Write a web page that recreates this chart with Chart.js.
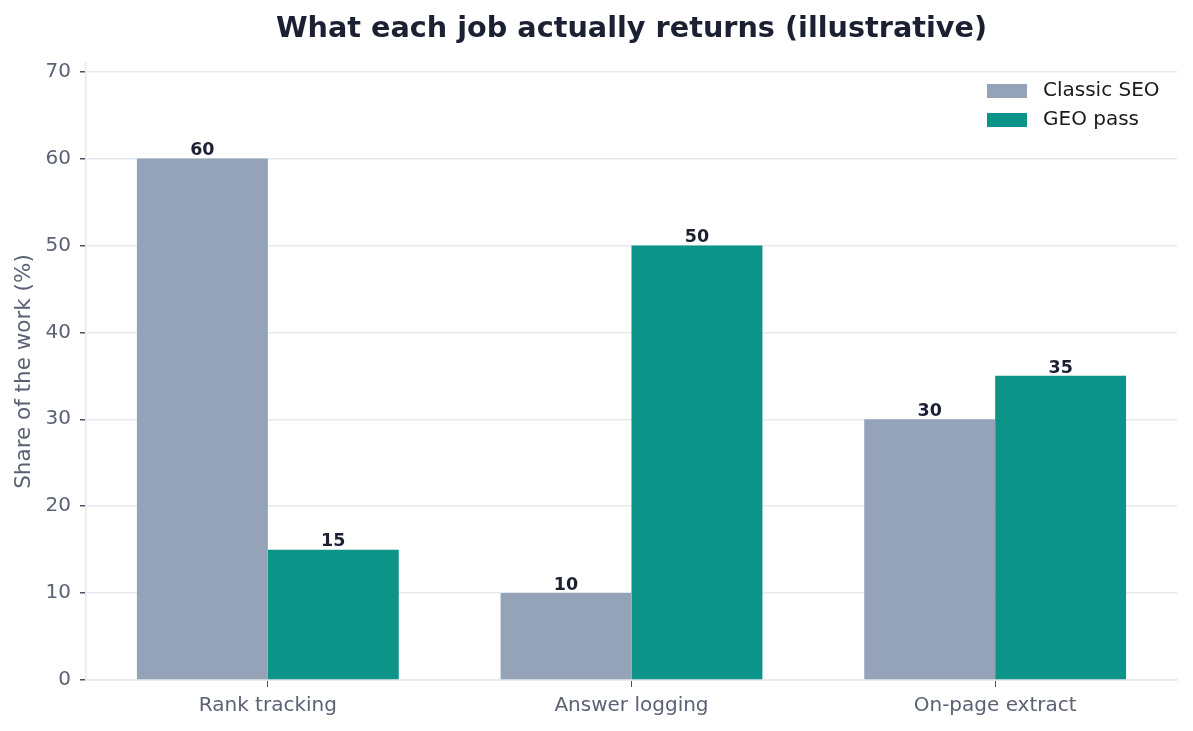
<!DOCTYPE html>
<html>
<head>
<meta charset="utf-8">
<script src="https://cdn.jsdelivr.net/npm/chart.js@4.4.1/dist/chart.umd.min.js"></script>
<style>
    html, body { margin: 0; padding: 0; background: #ffffff; }
    #wrap { width: 1193px; height: 731px; }
</style>
</head>
<body>
<div id="wrap"><canvas id="jobChart"></canvas></div>
<script>
const categories = ['Rank tracking', 'Answer logging', 'On-page extract'];
const classicSeo = [60, 10, 30];
const geoPass = [15, 50, 35];
const yTicks = [0, 10, 20, 30, 40, 50, 60, 70];

const FONT = "'DejaVu Sans', sans-serif";
const TICK_COLOR = '#5b6275';
const GRID_COLOR = '#e6e9ee';

// value labels above each bar
const barLabels = {
    id: 'barLabels',
    afterDatasetsDraw (chart) {
        let ctx = chart.ctx;
        ctx.save();
        ctx.font = 'bold 17.5px ' + FONT;
        ctx.fillStyle = '#1c2033';
        ctx.textAlign = 'center';
        ctx.textBaseline = 'bottom';
        chart.data.datasets.forEach((ds, i) => {
            chart.getDatasetMeta(i).data.forEach((bar, j) => {
                ctx.fillText(ds.data[j], bar.x, bar.y + 1);
            });
        });
        ctx.restore();
    }
};

// title centred over the plot area, legend in its top right corner
const titleAndLegend = {
    id: 'titleAndLegend',
    afterDraw (chart) {
        let ctx = chart.ctx;
        let area = chart.chartArea;
        ctx.save();
        ctx.font = 'bold 28.7px ' + FONT;
        ctx.fillStyle = '#1c2033';
        ctx.textAlign = 'center';
        ctx.textBaseline = 'middle';
        ctx.fillText('What each job actually returns (illustrative)', (area.left + area.right) / 2, 30);

        ctx.font = '20px ' + FONT;
        ctx.textAlign = 'left';
        chart.data.datasets.forEach((ds, i) => {
            let y = area.top + 28 + i * 29;
            ctx.fillStyle = ds.backgroundColor;
            ctx.fillRect(area.right - 190, y - 7, 40, 14);
            ctx.fillStyle = '#1a1a1a';
            ctx.fillText(ds.label, area.right - 134, y);
        });
        ctx.restore();
    }
};

new Chart(document.getElementById('jobChart'), {
    type: 'bar',
    data: {
        labels: categories,
        datasets: [
            {
                label: 'Classic SEO',
                data: classicSeo,
                backgroundColor: '#94a3b8',
                categoryPercentage: 0.72,
                barPercentage: 1.0
            },
            {
                label: 'GEO pass',
                data: geoPass,
                backgroundColor: '#0d9488',
                categoryPercentage: 0.72,
                barPercentage: 1.0
            }
        ]
    },
    options: {
        responsive: true,
        maintainAspectRatio: false,
        animation: false,
        layout: { padding: { left: 0, right: 16, top: 63, bottom: 0 } },
        plugins: {
            legend: { display: false },
            tooltip: { enabled: false },
            title: { display: false }
        },
        scales: {
            x: {
                grid: {
                    display: true,
                    drawOnChartArea: false,
                    offset: false,
                    tickLength: 7,
                    tickColor: '#4b5263'
                },
                border: { color: GRID_COLOR, width: 1.5 },
                ticks: {
                    color: TICK_COLOR,
                    font: { family: FONT, size: 20 },
                    padding: 7
                },
                afterFit (scale) { scale.height = 51; }
            },
            y: {
                min: 0,
                max: 71,
                afterBuildTicks (scale) {
                    scale.ticks = yTicks.map(v => ({ value: v }));
                },
                grid: {
                    color: GRID_COLOR,
                    lineWidth: 1.5,
                    tickLength: 6,
                    tickColor: '#4b5263'
                },
                border: { color: GRID_COLOR, width: 1.5 },
                ticks: {
                    color: TICK_COLOR,
                    font: { family: FONT, size: 20 },
                    padding: 9
                },
                title: {
                    display: true,
                    text: 'Share of the work (%)',
                    color: TICK_COLOR,
                    font: { family: FONT, size: 21.5 },
                    padding: { top: 12, bottom: 4 }
                },
                afterFit (scale) { scale.width = 86; }
            }
        }
    },
    plugins: [barLabels, titleAndLegend]
});
</script>
</body>
</html>
